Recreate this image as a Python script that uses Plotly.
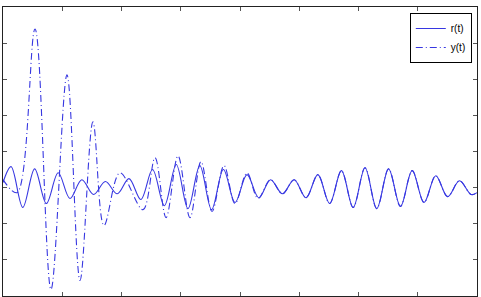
import plotly.graph_objects as go

# r(t): extrema of the reference signal (time, value)
r_t = [0.0, 0.68, 1.67, 2.67, 3.66, 4.66, 5.65, 6.65, 7.65, 8.64, 9.64, 10.63, 11.63,
       12.62, 13.62, 14.62, 15.61, 16.61, 17.60, 18.60, 19.59, 20.59, 21.59, 22.58,
       23.58, 24.57, 25.57, 26.57, 27.56, 28.56, 29.55, 30.55, 31.54, 32.54, 33.54,
       34.53, 35.53, 36.52, 37.52, 38.52, 39.51, 40.0]
r_v = [0.14, 0.58, -0.55, 0.52, -0.44, 0.41, -0.30, 0.22, -0.19, 0.17, -0.17, 0.25, -0.33,
       0.50, -0.50, 0.64, -0.58, 0.61, -0.61, 0.50, -0.41, 0.36, -0.28, 0.22,
       -0.17, 0.22, -0.28, 0.36, -0.44, 0.47, -0.55, 0.55, -0.58, 0.52, -0.52,
       0.47, -0.41, 0.33, -0.25, 0.19, -0.19, -0.14]

# y(t): transient part, afterwards it follows r(t)
y_t_early = [0.0, 1.18, 2.70, 4.05, 5.40, 6.50, 7.59, 8.52, 9.87, 11.81, 12.83, 13.76,
             14.77, 15.78, 16.71, 17.64, 18.65, 19.58, 20.59, 21.52]
y_v_early = [0.22, -0.14, 4.39, -2.82, 3.12, -2.57, 1.82, -1.05, 0.41, -0.61, 0.83, -0.83,
             0.88, -0.83, 0.72, -0.66, 0.61, -0.44, 0.41, -0.30]
y_t = y_t_early + r_t[23:]
y_v = y_v_early + r_v[23:]

x_ticks = [0, 5, 10, 15, 20, 25, 30, 35, 40]
y_ticks = [-3, -2, -1, 0, 1, 2, 3, 4, 5]

blue = "rgb(55,55,225)"
fig = go.Figure()
fig.add_trace(go.Scatter(x=r_t, y=r_v, mode="lines", name="r(t)",
                         line=dict(color=blue, width=1.1, shape="spline", smoothing=1.0)))
fig.add_trace(go.Scatter(x=y_t, y=y_v, mode="lines", name="y(t)",
                         line=dict(color=blue, width=1.1, dash="7px,3px,1px,3px",
                                   shape="spline", smoothing=1.0)))

axis_common = dict(showline=True, linecolor="#222", linewidth=1, mirror="ticks",
                   ticks="inside", ticklen=4, tickcolor="#555", tickwidth=1,
                   showticklabels=False, showgrid=False, zeroline=False)
fig.update_xaxes(range=[0, 40], tickvals=x_ticks, **axis_common)
fig.update_yaxes(range=[-3, 5], tickvals=y_ticks, **axis_common)

fig.update_layout(
    width=481, height=297,
    margin=dict(l=3, r=4, t=7, b=1),
    paper_bgcolor="white", plot_bgcolor="white",
    showlegend=True,
    legend=dict(x=0.989, y=0.979, xanchor="right", yanchor="top",
                bordercolor="black", borderwidth=1, bgcolor="white",
                font=dict(family="Liberation Sans, Arial", size=10, color="black"),
                itemwidth=30, tracegroupgap=0, entrywidth=40),
)
fig.write_html("out.html")
